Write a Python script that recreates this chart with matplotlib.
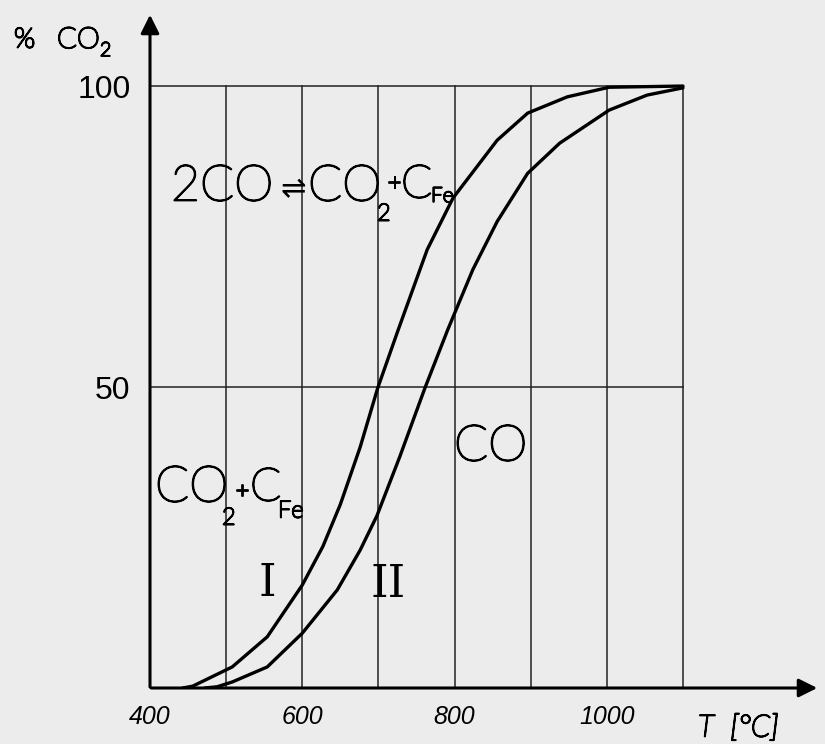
import matplotlib
matplotlib.use('Agg')
import matplotlib.pyplot as plt
import matplotlib.patheffects as pe

# temperature [°C] and % CO2
t_1 = [443, 456, 508, 554, 600, 627, 650, 676, 699, 726, 764, 798, 856, 896, 948, 1003, 1100]
co2_1 = [0, 0.3, 3.5, 8.5, 17.1, 23.5, 30.5, 40.0, 49.8, 59.5, 72.8, 81.4, 91.0, 95.5, 98.2, 99.8, 100]
t_2 = [472, 488, 508, 554, 600, 646, 676, 698, 728, 761, 791, 824, 856, 896, 938, 1003, 1053, 1100]
co2_2 = [0, 0.2, 1.0, 3.5, 9.1, 16.3, 22.9, 28.6, 38.4, 49.8, 59.5, 69.5, 77.5, 85.5, 90.5, 96, 98.5, 99.7]

grid_t = [500, 600, 700, 800, 900, 1000, 1100]
grid_y = [50, 100]
x_ticks = [400, 600, 800, 1000]
y_ticks = [50, 100]

bg = '#ececec'
W, H = 825, 744
fig = plt.figure(figsize=(8.25, 7.44), dpi=100, facecolor=bg)
ax = fig.add_axes([150/W, 56/H, 670/W, 676/H])
ax.set_facecolor(bg)
ax.set_xlim(400, 1280)
ax.set_ylim(0, 112.3)
for s in ax.spines.values():
    s.set_visible(False)

# grid
for t in grid_t:
    ax.plot([t, t], [0, 100], color='#222222', lw=1.1)
for y in grid_y:
    ax.plot([400, 1100], [y, y], color='#222222', lw=1.1)

# curves
ax.plot(t_1, co2_1, color='black', lw=2.4, solid_capstyle='round', solid_joinstyle='round')
ax.plot(t_2, co2_2, color='black', lw=2.4, solid_capstyle='round', solid_joinstyle='round')

# axes with arrows
ax.annotate('', xy=(1280, 0), xytext=(398, 0),
            arrowprops=dict(arrowstyle='-|>', lw=2.2, color='black', mutation_scale=28),
            annotation_clip=False)
ax.annotate('', xy=(400, 112.3), xytext=(400, -0.3),
            arrowprops=dict(arrowstyle='-|>', lw=2.2, color='black', mutation_scale=28),
            annotation_clip=False)

ax.set_xticks(x_ticks)
ax.set_xticklabels([str(v) for v in x_ticks], fontsize=18, style='italic', family='Liberation Sans')
ax.set_yticks(y_ticks)
ax.set_yticklabels([str(v) for v in y_ticks], fontsize=23, family='Liberation Sans')
ax.tick_params(axis='both', length=0)
ax.tick_params(axis='x', pad=12)
ax.tick_params(axis='y', pad=14)

thin = [pe.withStroke(linewidth=1.3, foreground='black')]


def px_text(x, y, s, size, **kw):
    kw.setdefault('family', 'Lato')
    kw.setdefault('fontweight', 'ultralight')
    fig.text(x / W, 1 - y / H, s, fontsize=size, va='center', path_effects=thin, **kw)


# axis labels
px_text(14, 40, '%', 20)
px_text(57, 40, 'CO', 21)
px_text(100, 51, '2', 14)
px_text(698, 728, 'T  [°C]', 22, style='italic')

# reaction, upper
px_text(171, 187, '2CO', 36)
fig.text(275 / W, 1 - 190 / H, r'$\rightleftharpoons$', fontsize=22, va='center', family='DejaVu Sans')
px_text(308, 187, 'CO', 36)
px_text(377, 214, '2', 17)
px_text(388, 184, '+', 17)
px_text(401, 185, 'C', 33)
px_text(431, 196, 'Fe', 15)

# lower left region
px_text(155, 488, 'CO', 36)
px_text(222, 518, '2', 17)
px_text(236, 492, '+', 16)
px_text(250, 488, 'C', 33)
px_text(278, 511, 'Fe', 17)

# right region
px_text(454, 447, 'CO', 36)

# curve numbers
fig.text(267 / W, 1 - 583 / H, 'I', fontsize=32, ha='center', va='center', family='DejaVu Serif')
fig.text(388 / W, 1 - 584 / H, 'II', fontsize=32, ha='center', va='center', family='DejaVu Serif')

fig.savefig('out.png', dpi=100, facecolor=bg)
